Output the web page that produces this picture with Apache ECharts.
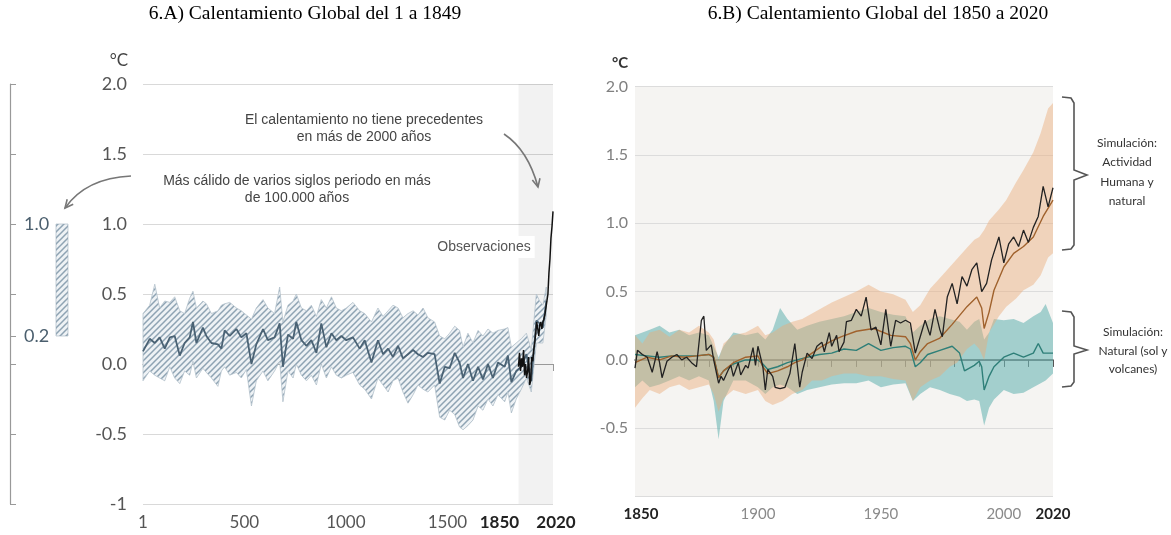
<!DOCTYPE html>
<html><head><meta charset="utf-8">
<script src="https://cdn.jsdelivr.net/npm/echarts@6/dist/echarts.min.js"></script>
<style>html,body{margin:0;padding:0;background:#fff}#c{width:1171px;height:535px}</style>
</head><body><div id="c"></div>
<script>
// ---------- Panel A: reconstruction 1–1849 (and beyond) ----------
const yearsA = [1,34,59,83,108,133,157,182,206,231,247,264,296,313,338,370,387,403,428,461,485,510,535,559,592,616,649,674,690,715,740,756,781,806,830,855,879,904,929,953,978,1002,1035,1068,1093,1126,1158,1183,1208,1232,1257,1281,1306,1331,1355,1380,1404,1437,1462,1487,1511,1536,1560,1577,1601,1626,1651,1675,1700,1724,1749,1782,1798,1815,1839,1864,1889,1913,1938,1954,1970,1987];
const reconA = [0.09,0.18,0.15,0.19,0.11,0.19,0.20,0.06,0.15,0.19,0.30,0.15,0.26,0.20,0.15,0.14,0.11,0.24,0.20,0.25,0.19,0.22,0.00,0.14,0.25,0.17,0.19,0.29,-0.02,0.21,0.18,0.30,0.17,0.13,0.17,0.08,0.29,0.12,0.22,0.17,0.20,0.17,0.19,0.11,0.17,0.01,0.17,0.07,0.11,0.05,0.13,0.04,0.07,0.10,0.07,0.05,0.08,0.07,-0.14,-0.02,-0.03,0.08,0.01,-0.10,0.00,-0.12,-0.02,-0.11,0.00,-0.10,0.01,-0.02,0.06,-0.13,-0.05,-0.02,0.07,-0.12,0.31,0.29,0.26,0.45];
const reconHiA = [0.36,0.42,0.57,0.40,0.45,0.44,0.48,0.38,0.36,0.47,0.52,0.40,0.45,0.43,0.36,0.38,0.42,0.43,0.44,0.40,0.38,0.35,0.32,0.40,0.46,0.40,0.36,0.55,0.30,0.42,0.45,0.50,0.40,0.38,0.42,0.34,0.46,0.40,0.48,0.40,0.38,0.40,0.44,0.38,0.36,0.30,0.40,0.34,0.38,0.42,0.40,0.33,0.36,0.38,0.35,0.40,0.33,0.30,0.20,0.18,0.22,0.27,0.24,0.12,0.22,0.15,0.24,0.20,0.25,0.22,0.24,0.25,0.26,0.12,0.15,0.18,0.22,0.10,0.50,0.45,0.42,0.55];
const reconLoA = [-0.12,-0.05,-0.08,-0.10,-0.12,-0.02,-0.10,-0.14,-0.05,-0.08,0.02,-0.10,-0.03,-0.06,-0.10,-0.16,-0.05,-0.02,-0.08,-0.06,-0.10,-0.04,-0.30,-0.12,-0.05,-0.12,-0.05,0.02,-0.27,-0.05,-0.10,0.00,-0.08,-0.12,-0.08,-0.15,0.00,-0.10,-0.02,-0.08,-0.10,-0.08,-0.06,-0.15,-0.18,-0.25,-0.10,-0.15,-0.20,-0.12,-0.10,-0.20,-0.28,-0.22,-0.15,-0.18,-0.20,-0.15,-0.38,-0.40,-0.33,-0.36,-0.45,-0.47,-0.44,-0.40,-0.30,-0.33,-0.25,-0.30,-0.22,-0.27,-0.20,-0.35,-0.25,-0.18,-0.10,-0.20,0.15,0.15,0.15,0.35];
const obsYearsA = [1850,1855,1860,1865,1870,1875,1880,1885,1890,1895,1900,1905,1910,1915,1920,1925,1930,1935,1940,1945,1950,1955,1960,1965,1970,1975,1980,1985,1990,1995,2000,2005,2010,2015,2020];
const obsA = [-0.02,0.08,-0.05,0.04,-0.02,0.10,-0.08,0.00,-0.10,-0.05,0.05,-0.15,-0.12,0.05,0.02,0.10,0.15,0.22,0.30,0.25,0.20,0.28,0.30,0.25,0.30,0.32,0.35,0.40,0.45,0.50,0.65,0.75,0.90,0.98,1.09];
const ticksA = [1,500,1000,1500,1850,2020];
const bracketTicks = [-1,-0.5,0,0.2,0.5,1,1.5,2];
const bracketLabels = [0.2,1.0];
const rangeBar = [[52,0.2,1.0]];

// ---------- Panel B: 1850–2020 ----------
const obsYearsB = [1850,1851,1853,1855,1857,1859,1860,1861,1863,1865,1867,1869,1871,1873,1875,1877,1878,1879,1881,1882,1884,1885,1886,1888,1889,1890,1892,1893,1895,1896,1898,1899,1900,1902,1903,1904,1906,1907,1909,1911,1913,1915,1917,1918,1920,1922,1924,1926,1927,1929,1930,1932,1933,1935,1936,1938,1940,1942,1944,1946,1948,1950,1952,1954,1956,1958,1960,1962,1964,1966,1968,1970,1972,1974,1975,1977,1979,1981,1983,1985,1987,1989,1991,1993,1995,1998,2000,2002,2004,2006,2008,2010,2012,2014,2016,2018,2020];
const obsB = [-0.06,0.07,0.04,0.02,-0.09,0.06,-0.02,-0.13,-0.01,0.02,0.04,0.00,0.02,-0.02,-0.05,0.29,0.32,0.07,0.11,0.00,-0.17,-0.12,-0.15,-0.07,-0.04,-0.12,-0.02,-0.11,-0.04,-0.06,0.09,-0.04,0.10,-0.05,-0.22,-0.07,-0.12,-0.20,-0.21,-0.20,-0.10,0.12,-0.20,-0.09,0.05,0.01,0.10,0.13,0.06,0.20,0.10,0.18,0.06,0.13,0.28,0.29,0.37,0.32,0.46,0.22,0.24,0.11,0.37,0.10,0.29,0.27,0.29,0.27,0.05,0.17,0.29,0.18,0.37,0.22,0.17,0.46,0.56,0.41,0.61,0.54,0.66,0.71,0.50,0.56,0.73,0.90,0.71,0.85,0.90,0.83,0.95,0.86,0.97,1.05,1.27,1.12,1.26];
const humYears = [1850,1855,1860,1865,1870,1875,1880,1882,1884,1886,1890,1895,1900,1902,1904,1908,1912,1915,1918,1922,1926,1930,1934,1940,1947,1954,1960,1962,1964,1966,1969,1974,1979,1985,1989,1991,1992,1994,1996,2000,2004,2008,2012,2016,2020];
const humSim = [-0.02,0.02,0.00,0.03,0.02,0.03,0.04,0.02,-0.13,-0.08,-0.02,0.02,0.03,-0.05,-0.10,-0.08,-0.05,-0.02,0.00,0.05,0.10,0.14,0.17,0.21,0.23,0.18,0.17,0.12,0.00,0.06,0.12,0.16,0.26,0.39,0.46,0.38,0.23,0.35,0.51,0.68,0.78,0.83,0.90,1.05,1.17];
const natYears = [1850,1855,1860,1865,1870,1875,1880,1882,1884,1886,1890,1895,1900,1902,1904,1908,1912,1916,1920,1925,1930,1935,1940,1945,1950,1955,1960,1962,1964,1966,1969,1974,1979,1982,1984,1988,1990,1991,1992,1994,1996,2000,2004,2008,2012,2014,2016,2020];
const natSim = [0.04,0.03,0.02,0.03,0.03,0.03,0.04,0.02,-0.13,-0.08,-0.03,0.00,0.00,-0.03,-0.07,-0.05,-0.02,0.00,0.02,0.04,0.05,0.08,0.07,0.12,0.07,0.09,0.10,0.08,-0.05,-0.02,0.04,0.07,0.10,0.05,-0.08,-0.04,-0.01,-0.05,-0.22,-0.12,-0.05,0.02,0.05,0.02,0.05,0.12,0.05,0.05];
const humBandYears = [1850,1853,1856,1860,1864,1868,1872,1876,1880,1882,1884,1886,1890,1895,1900,1903,1906,1910,1914,1918,1922,1926,1930,1935,1940,1945,1950,1955,1960,1963,1966,1970,1974,1978,1981,1985,1988,1990,1992,1994,1998,2001,2005,2008,2012,2015,2018,2020];
const humHi = [0.18,0.12,0.20,0.22,0.17,0.22,0.20,0.25,0.20,0.15,0.00,0.12,0.18,0.20,0.25,0.18,0.20,0.25,0.28,0.30,0.34,0.38,0.42,0.46,0.50,0.55,0.50,0.48,0.44,0.35,0.40,0.52,0.60,0.68,0.74,0.82,0.88,0.90,0.95,1.02,1.10,1.17,1.30,1.39,1.52,1.66,1.84,1.88];
const humLo = [-0.35,-0.28,-0.22,-0.25,-0.20,-0.18,-0.22,-0.20,-0.18,-0.25,-0.38,-0.28,-0.22,-0.25,-0.22,-0.30,-0.33,-0.30,-0.25,-0.22,-0.15,-0.15,-0.12,-0.10,-0.10,-0.12,-0.12,-0.14,-0.15,-0.30,-0.20,-0.15,-0.12,-0.05,-0.02,0.08,0.12,0.08,0.00,0.20,0.32,0.39,0.45,0.51,0.55,0.62,0.75,0.78];
const natBandYears = [1850,1853,1856,1860,1864,1868,1872,1876,1880,1882,1884,1886,1890,1895,1900,1903,1906,1909,1912,1916,1920,1925,1930,1935,1940,1945,1950,1955,1960,1963,1966,1970,1974,1978,1982,1985,1988,1990,1992,1994,1996,2000,2004,2008,2012,2015,2017,2020];
const natHi = [0.18,0.20,0.22,0.25,0.20,0.22,0.18,0.20,0.18,0.10,0.02,0.10,0.20,0.18,0.20,0.15,0.22,0.38,0.30,0.22,0.25,0.28,0.30,0.32,0.35,0.38,0.35,0.33,0.32,0.20,0.25,0.30,0.32,0.30,0.28,0.22,0.28,0.30,0.15,0.20,0.30,0.29,0.30,0.27,0.32,0.35,0.41,0.27];
const natLo = [-0.20,-0.15,-0.20,-0.18,-0.15,-0.12,-0.15,-0.12,-0.15,-0.30,-0.58,-0.30,-0.15,-0.15,-0.20,-0.25,-0.20,-0.18,-0.20,-0.25,-0.22,-0.20,-0.18,-0.17,-0.17,-0.15,-0.20,-0.18,-0.17,-0.30,-0.25,-0.20,-0.22,-0.25,-0.27,-0.30,-0.29,-0.30,-0.48,-0.35,-0.29,-0.22,-0.25,-0.24,-0.20,-0.17,-0.15,-0.10];

// ---------- helpers ----------
function hatchPattern(){
  const s=6, c=document.createElement('canvas'); c.width=c.height=s;
  const g=c.getContext('2d');
  g.fillStyle='#eef2f5'; g.fillRect(0,0,s,s);
  g.strokeStyle='#8ea3b3'; g.lineWidth=1.5; g.beginPath();
  g.moveTo(0,s); g.lineTo(s,0);
  g.moveTo(-s/2,s/2); g.lineTo(s/2,-s/2);
  g.moveTo(s/2,s+s/2); g.lineTo(s+s/2,s/2);
  g.stroke();
  return {image:c, repeat:'repeat'};
}
const HATCH = hatchPattern();
const pairs = (xs, ys) => xs.map((x,i)=>[x, ys[i]]);
function band(xi, xs, hi, lo, style, z){
  return {type:'custom', xAxisIndex:xi, yAxisIndex:xi, z:z, silent:true,
    data: xs.map((x,i)=>[x, lo[i], hi[i]]),
    encode:{x:0, y:[1,2]},
    renderItem:(params, api)=>{
      if(params.dataIndex!==0) return null;
      const pts=[];
      for(let i=0;i<xs.length;i++) pts.push(api.coord([xs[i], hi[i]]));
      for(let i=xs.length-1;i>=0;i--) pts.push(api.coord([xs[i], lo[i]]));
      return {type:'polygon', shape:{points:pts}, style:style};
    }};
}
function line(xi, xs, ys, color, width, z){
  return {type:'line', xAxisIndex:xi, yAxisIndex:xi, data:pairs(xs,ys), showSymbol:false, symbol:'none',
    lineStyle:{color:color, width:width}, z:z, silent:true, animation:false};
}
function head(tx,ty,fx,fy){
  const a=Math.atan2(ty-fy, tx-fx), L=9, w=0.45;
  return [[tx-L*Math.cos(a-w), ty-L*Math.sin(a-w)],[tx,ty],[tx-L*Math.cos(a+w), ty-L*Math.sin(a+w)]];
}
const txt = (x,y,text,o)=>({type:'text', x:x, y:y, silent:true, z:100,
  style:Object.assign({text:text, textAlign:'center', textVerticalAlign:'middle', fill:'#444', fontSize:14, fontFamily:'Liberation Sans'}, o||{})});

const labFmtA = v => v===-1 ? '-1' : v.toFixed(1);
const labFmtB = v => v===-1 ? '' : v.toFixed(1);

const chart = echarts.init(document.getElementById('c'), null, {renderer:'canvas'});
chart.setOption({
  animation:false,
  backgroundColor:'#fff',
  grid:[
    {left:143, top:84, width:410, height:420},
    {left:635, top:86.6, width:418, height:410, show:true, backgroundColor:'#f5f4f2', borderWidth:0},
    {left:10, top:84, width:60, height:420}
  ],
  xAxis:[
    {gridIndex:0, type:'value', min:1, max:2020,
      axisLine:{lineStyle:{color:'#999', width:1.2}},
      axisTick:{customValues:ticksA, length:7, lineStyle:{color:'#999'}},
      axisLabel:{customValues:ticksA, margin:10, hideOverlap:false, showMinLabel:true, showMaxLabel:true,
        formatter: v => (v===1850 ? '{l|'+v+'}' : v===2020 ? '{b|'+v+'}' : '{n|'+v+'}'),
        rich:{b:{fontWeight:'bold', color:'#222', fontSize:17, fontFamily:'Lato', padding:[0,0,0,6]},
              l:{fontWeight:'bold', color:'#222', fontSize:17, fontFamily:'Lato', padding:[0,38,0,0]},
              n:{color:'#555', fontSize:17, fontFamily:'Lato'}}},
      splitLine:{show:false}},
    {gridIndex:1, type:'value', min:1850, max:2020, interval:10,
      axisLine:{lineStyle:{color:'#444', width:1.5}},
      axisTick:{length:7, lineStyle:{color:'#555'}},
      axisLabel:{margin:10, showMinLabel:true, showMaxLabel:true, hideOverlap:false,
        formatter: v => v===1850 ? '{f|1850}' : v===2020 ? '{b|2020}' : (v%50===0 ? '{n|'+v+'}' : ''),
        rich:{b:{fontWeight:'bold', color:'#222', fontSize:15, fontFamily:'Lato'},
              f:{fontWeight:'bold', color:'#222', fontSize:15, fontFamily:'Lato', padding:[0,0,0,12]},
              n:{color:'#8a8a8a', fontSize:15, fontFamily:'Lato'}}},
      splitLine:{show:false}},
    {gridIndex:2, type:'value', min:0, max:60, show:false}
  ],
  yAxis:[
    {gridIndex:0, type:'value', min:-1, max:2, interval:0.5,
      axisLine:{show:false}, axisTick:{show:false},
      axisLabel:{formatter:labFmtA, color:'#555', fontSize:18, fontFamily:'Lato', margin:16},
      splitLine:{lineStyle:{color:'#d9d9d9', width:1.2}}},
    {gridIndex:1, type:'value', min:-1, max:2, interval:0.5,
      axisLine:{show:false}, axisTick:{show:false},
      axisLabel:{formatter:labFmtB, color:'#808080', fontSize:16, fontFamily:'Lato', margin:7},
      splitLine:{lineStyle:{color:'#dcdcdc', width:1.2}}},
    {gridIndex:2, type:'value', min:-1, max:2,
      axisLine:{show:true, lineStyle:{color:'#999', width:1.2}},
      axisTick:{show:true, inside:true, length:6, customValues:bracketTicks, lineStyle:{color:'#999'}},
      axisLabel:{inside:true, customValues:bracketLabels, formatter:v=>v.toFixed(1), color:'#4b5f6e', fontSize:18, fontFamily:'Lato', margin:14},
      splitLine:{show:false}}
  ],
  series:[
    {type:'custom', xAxisIndex:0, yAxisIndex:0, z:0, silent:true, data:[[1850,2020]],
      renderItem:(p,api)=>{const a=api.coord([api.value(0),2]), b=api.coord([api.value(1),-1]);
        return {type:'rect', shape:{x:a[0], y:a[1], width:b[0]-a[0], height:b[1]-a[1]}, style:{fill:'rgba(0,0,0,0.05)'}};}},
    band(0, yearsA, reconHiA, reconLoA, {fill:HATCH, stroke:'#b4c2cc', lineWidth:0.8}, 1),
    line(0, yearsA, reconA, '#4a6274', 1.8, 3),
    line(0, obsYearsA, obsA, '#111', 1.5, 4),
    {type:'custom', xAxisIndex:2, yAxisIndex:2, silent:true, data:rangeBar,
      renderItem:(p,api)=>{const a=api.coord([api.value(0),api.value(2)]), b=api.coord([api.value(0),api.value(1)]);
        return {type:'rect', shape:{x:a[0]-6, y:a[1], width:12, height:b[1]-a[1]}, style:{fill:HATCH, stroke:'#9fb0bd', lineWidth:0.6}};}},
    band(1, natBandYears, natHi, natLo, {fill:'rgba(108,182,180,0.6)'}, 1),
    band(1, humBandYears, humHi, humLo, {fill:'rgba(236,170,120,0.45)'}, 2),
    line(1, natYears, natSim, '#2e7f78', 1.4, 3),
    line(1, humYears, humSim, '#a0622d', 1.4, 4),
    line(1, obsYearsB, obsB, '#222', 1.3, 5)
  ],
  graphic:[
    txt(305,14,'6.A) Calentamiento Global del 1 a 1849',{fontFamily:'Liberation Serif', fontSize:19.5, fill:'#000'}),
    txt(878,14,'6.B) Calentamiento Global del 1850 a 2020',{fontFamily:'Liberation Serif', fontSize:19.5, fill:'#000'}),
    txt(119,61,'°C',{fontFamily:'Lato', fontSize:17, fill:'#444'}),
    txt(620,63,'°C',{fontFamily:'Lato', fontSize:15, fill:'#333', fontWeight:'bold'}),
    txt(364,120,'El calentamiento no tiene precedentes'),
    txt(364,137,'en más de 2000 años'),
    txt(297,181,'Más cálido de varios siglos periodo en más'),
    txt(297,198,'de 100.000 años'),
    {type:'text', x:484, y:247, z:100, silent:true, style:{text:'Observaciones', textAlign:'center', textVerticalAlign:'middle', fill:'#555', fontSize:14, fontFamily:'Liberation Sans', backgroundColor:'#fff', padding:[4,4]}},
    {type:'bezierCurve', silent:true, z:100, shape:{x1:131,y1:176,x2:65,y2:208,cpx1:86,cpy1:178}, style:{stroke:'#777', lineWidth:1.6, fill:null}},
    {type:'polyline', silent:true, z:100, shape:{points:head(65,208,80,190)}, style:{stroke:'#777', lineWidth:1.6, fill:null}},
    {type:'bezierCurve', silent:true, z:100, shape:{x1:504,y1:134,x2:538,y2:187,cpx1:528,cpy1:150}, style:{stroke:'#777', lineWidth:1.6, fill:null}},
    {type:'polyline', silent:true, z:100, shape:{points:head(538,187,534,170)}, style:{stroke:'#777', lineWidth:1.6, fill:null}},
    {type:'polyline', silent:true, z:100, shape:{points:[[1062,97],[1071,98],[1074,103],[1074,170],[1087,175],[1074,180],[1074,245],[1071,249],[1062,250]]}, style:{stroke:'#555', lineWidth:1.6, fill:null}},
    {type:'polyline', silent:true, z:100, shape:{points:[[1062,311],[1071,312],[1074,317],[1074,346],[1087,350],[1074,354],[1074,382],[1071,386],[1062,387]]}, style:{stroke:'#555', lineWidth:1.6, fill:null}},
    txt(1127,143,'Simulación:',{fontFamily:'Lato', fontSize:12, fill:'#333'}),
    txt(1127,162,'Actividad',{fontFamily:'Lato', fontSize:12, fill:'#333'}),
    txt(1127,182,'Humana y',{fontFamily:'Lato', fontSize:12, fill:'#333'}),
    txt(1127,201,'natural',{fontFamily:'Lato', fontSize:12, fill:'#333'}),
    txt(1133,332,'Simulación:',{fontFamily:'Lato', fontSize:12, fill:'#333'}),
    txt(1133,351,'Natural (sol y',{fontFamily:'Lato', fontSize:12, fill:'#333'}),
    txt(1133,369,'volcanes)',{fontFamily:'Lato', fontSize:12, fill:'#333'})
  ]
});
</script>
</body></html>
